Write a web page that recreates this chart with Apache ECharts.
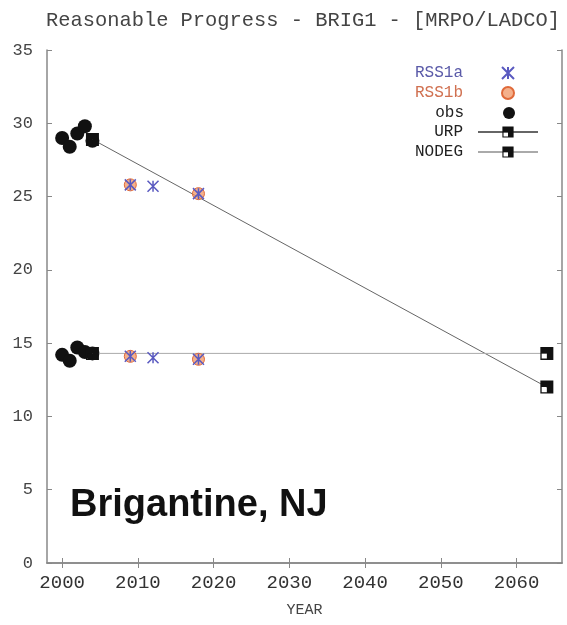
<!DOCTYPE html>
<html>
<head>
    <meta charset="utf-8">
    <title>Reasonable Progress - BRIG1</title>
    <script src="https://cdn.jsdelivr.net/npm/echarts@6/dist/echarts.min.js"></script>
</head>
<body style="margin:0">
    <div id="container" style="width:567px;height:625px;"></div>
    <script type="text/javascript">
        // tick labels
        var xTicks = [2000, 2010, 2020, 2030, 2040, 2050, 2060];

        // observations (worst days on top, best days below)
        var obsYears = [2000, 2001, 2002, 2003, 2004];
        var obsWorst = [29.0, 28.4, 29.3, 29.8, 28.8];
        var obsBest = [14.2, 13.8, 14.7, 14.4, 14.3];

        // glide paths
        var lineYears = [2004, 2064];
        var urpValues = [28.9, 12.0];
        var nodegValues = [14.3, 14.3];

        // model runs
        var rss1aYears = [2009, 2012, 2018];
        var rss1aWorst = [25.8, 25.7, 25.2];
        var rss1aBest = [14.1, 14.0, 13.9];
        var rss1bYears = [2009, 2018];
        var rss1bWorst = [25.8, 25.2];
        var rss1bBest = [14.1, 13.9];

        function pairs(xs, ys) {
            return xs.map(function (x, i) { return [x, ys[i]]; });
        }

        var mono = 'Liberation Mono';
        // square with a small hole in the lower left corner
        var boxSymbol = 'path://M0,0H10V10H0Z M1,5V9H5V5Z';

        var chart = echarts.init(document.getElementById('container'));

        // one legend per row so the icons line up on the right
        function legendRow(name, color, top, isLine) {
            return {
                orient: 'vertical',
                align: 'right',
                right: isLine ? 23 : 47,
                top: top,
                itemWidth: isLine ? 60 : 14,
                itemHeight: isLine ? 14 : 12,
                selectedMode: false,
                data: [{ name: name, textStyle: { color: color } }],
                textStyle: { fontFamily: mono, fontSize: 16, padding: [0, isLine ? 10 : 33, 0, 0] }
            };
        }

        var axisColor = '#888';

        chart.setOption({
            animation: false,
            backgroundColor: '#fff',
            title: {
                text: 'Reasonable Progress - BRIG1 - [MRPO/LADCO]',
                left: 41,
                top: 6,
                textStyle: { fontFamily: mono, fontSize: 20.4, fontWeight: 'normal', color: '#444' }
            },
            legend: [
                legendRow('RSS1a', '#5a5aa8', 60, false),
                legendRow('RSS1b', '#d07050', 80, false),
                legendRow('obs', '#222', 100, false),
                legendRow('URP', '#222', 119, true),
                legendRow('NODEG', '#222', 139, true)
            ],
            grid: { left: 47, right: 5, top: 50, bottom: 62 },
            xAxis: [{
                type: 'value',
                min: 1998,
                max: 2066,
                name: 'YEAR',
                nameLocation: 'middle',
                nameGap: 40,
                nameTextStyle: { fontFamily: mono, fontSize: 15, color: '#444' },
                splitLine: { show: false },
                axisLine: { lineStyle: { color: axisColor, width: 1.5 } },
                axisTick: { inside: true, length: 5, customValues: xTicks, lineStyle: { color: axisColor } },
                axisLabel: {
                    customValues: xTicks, margin: 10, fontFamily: mono, fontSize: 19, color: '#333',
                    formatter: function (v) { return String(v); }
                }
            }, {
                type: 'value',
                position: 'top',
                min: 1998,
                max: 2066,
                splitLine: { show: false },
                axisLine: { show: true, lineStyle: { color: axisColor, width: 1.5 } },
                axisTick: { inside: true, length: 5, customValues: xTicks, lineStyle: { color: axisColor } },
                axisLabel: { show: false }
            }],
            yAxis: [{
                type: 'value',
                min: 0,
                max: 35,
                interval: 5,
                splitLine: { show: false },
                axisLine: { show: true, lineStyle: { color: axisColor, width: 1.5 } },
                axisTick: { show: true, inside: true, length: 5, lineStyle: { color: axisColor } },
                axisLabel: { margin: 14, fontFamily: mono, fontSize: 17, color: '#444' }
            }, {
                type: 'value',
                position: 'right',
                min: 0,
                max: 35,
                interval: 5,
                splitLine: { show: false },
                axisLine: { show: true, lineStyle: { color: axisColor, width: 1.5 } },
                axisTick: { show: true, inside: true, length: 5, lineStyle: { color: axisColor } },
                axisLabel: { show: false }
            }],
            graphic: [{
                type: 'text',
                x: 70,
                y: 506,
                style: {
                    text: 'Brigantine, NJ',
                    font: 'bold 38px "Liberation Sans", Arial, sans-serif',
                    fill: '#111',
                    verticalAlign: 'middle'
                }
            }],
            series: [{
                name: 'obs',
                type: 'scatter',
                data: pairs(obsYears, obsWorst).concat(pairs(obsYears, obsBest)),
                symbol: 'circle',
                symbolSize: 14,
                itemStyle: { color: '#111', opacity: 1 },
                z: 1
            }, {
                name: 'URP',
                type: 'line',
                data: pairs(lineYears, urpValues),
                symbol: boxSymbol,
                symbolSize: 13,
                itemStyle: { color: '#111' },
                lineStyle: { color: '#666', width: 1 },
                z: 3
            }, {
                name: 'NODEG',
                type: 'line',
                data: pairs(lineYears, nodegValues),
                symbol: boxSymbol,
                symbolSize: 13,
                itemStyle: { color: '#111' },
                lineStyle: { color: '#aaa', width: 1 },
                z: 3
            }, {
                name: 'RSS1b',
                type: 'scatter',
                data: pairs(rss1bYears, rss1bWorst).concat(pairs(rss1bYears, rss1bBest)),
                symbol: 'circle',
                symbolSize: 12,
                itemStyle: { color: 'rgba(240,150,100,0.75)', borderColor: '#e06a3a', borderWidth: 1, opacity: 1 },
                z: 4
            }, {
                name: 'RSS1a',
                type: 'scatter',
                data: pairs(rss1aYears, rss1aWorst).concat(pairs(rss1aYears, rss1aBest)),
                symbol: 'path://M0,0L10,10M10,0L0,10M5,0L5,10',
                symbolSize: 11,
                itemStyle: { color: 'transparent', borderColor: '#5a5ac0', borderWidth: 1.5, opacity: 1 },
                z: 5
            }]
        });
    </script>
</body>
</html>
